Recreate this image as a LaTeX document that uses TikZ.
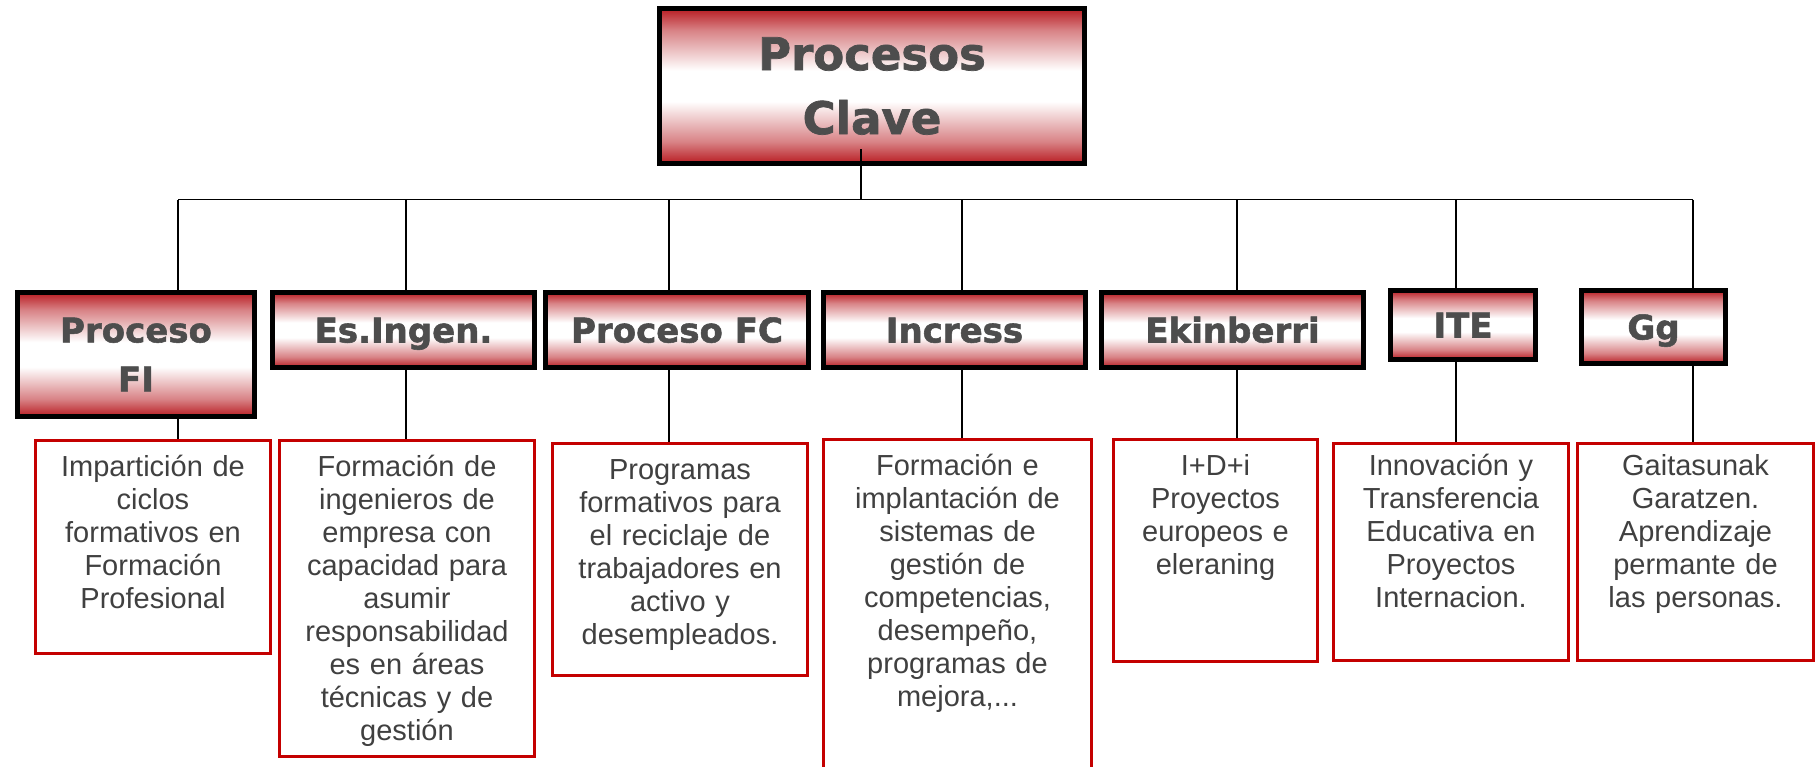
\documentclass[tikz,border=0pt]{standalone}
\usepackage{fontspec}
\usetikzlibrary{positioning}
\newfontfamily\headfont{DejaVu Sans}[BoldFeatures={FakeBold=1.6}]
\newfontfamily\descfont{Liberation Sans}
\definecolor{boxred}{RGB}{184,28,34}
\definecolor{linered}{RGB}{196,0,0}
\definecolor{headgray}{RGB}{77,77,77}
\definecolor{descgray}{RGB}{64,64,64}
\pgfdeclareverticalshading{redband}{100bp}{color(0bp)=(boxred); color(25bp)=(boxred); color(32bp)=(boxred!55!white); color(45bp)=(white); color(55bp)=(white); color(68bp)=(boxred!55!white); color(75bp)=(boxred); color(100bp)=(boxred)}
\tikzset{
  procbox/.style={draw=black, line width=5pt, shade, shading=redband, inner sep=0pt, align=center, text=headgray},
  procfont/.style={font=\headfont\bfseries\fontsize{34}{49}\selectfont},
  oneline/.style={text height=25pt, text depth=0pt},
  descbox/.style={draw=linered, line width=3pt, fill=white, inner sep=0pt},
  desctext/.style={font=\descfont\fontsize{29}{33}\selectfont, text=descgray, align=center, text width=#1, inner sep=0pt, anchor=base},
  link/.style={line width=1.8pt, black}
}
\begin{document}
\begin{tikzpicture}[x=1pt,y=-1pt]
  \fill[white] (0,0) rectangle (1820,766);
  \useasboundingbox (0,0) rectangle (1820,766);
  % Top box
  \node[procbox, minimum width=425pt, minimum height=155pt, font=\headfont\bfseries\fontsize{45}{64}\selectfont] (top) at (872,86) {Procesos\\Clave};
  % Process boxes
  \node[procbox, procfont, minimum width=237pt, minimum height=124pt] (fi) at (136,354.5) {Proceso\\FI};
  \node[procbox, procfont, oneline, minimum width=262pt, minimum height=75pt] (esi) at (403.5,330) {Es.Ingen.};
  \node[procbox, procfont, oneline, minimum width=263pt, minimum height=75pt] (fc) at (677,330) {Proceso FC};
  \node[procbox, procfont, oneline, minimum width=262pt, minimum height=75pt] (inc) at (954.5,330) {Incress};
  \node[procbox, procfont, oneline, minimum width=262pt, minimum height=75pt] (eki) at (1232.5,330) {Ekinberri};
  \node[procbox, procfont, oneline, minimum width=145pt, minimum height=69pt] (ite) at (1463,325) {ITE};
  \node[procbox, procfont, oneline, minimum width=144pt, minimum height=73pt] (gg) at (1653.5,327) {Gg};
  % Description boxes
  \node[descbox, minimum width=235pt, minimum height=213pt] (d-fi) at (153,547) {};
  \node[descbox, minimum width=255pt, minimum height=316pt] (d-esi) at (407,598.5) {};
  \node[descbox, minimum width=255pt, minimum height=232pt] (d-fc) at (680,559.5) {};
  \node[descbox, minimum width=268pt, minimum height=360pt] (d-inc) at (957.5,619.5) {};
  \node[descbox, minimum width=204pt, minimum height=222pt] (d-eki) at (1215.5,550.5) {};
  \node[descbox, minimum width=235pt, minimum height=217pt] (d-ite) at (1451,552) {};
  \node[descbox, minimum width=236pt, minimum height=217pt] (d-gg) at (1695.5,552) {};
  % Description texts
  \node[desctext=225pt] (t-fi) at ([yshift=-37.5pt]d-fi.north) {Impartición de\\ciclos\\formativos en\\Formación\\Profesional};
  \node[desctext=245pt] (t-esi) at ([yshift=-37.5pt]d-esi.north) {Formación de\\ingenieros de\\empresa con\\capacidad para\\asumir\\responsabilidad\\es en áreas\\técnicas y de\\gestión};
  \node[desctext=245pt] (t-fc) at ([yshift=-37.5pt]d-fc.north) {Programas\\formativos para\\el reciclaje de\\trabajadores en\\activo y\\desempleados.};
  \node[desctext=258pt] (t-inc) at ([yshift=-37.5pt]d-inc.north) {Formación e\\implantación de\\sistemas de\\gestión de\\competencias,\\desempeño,\\programas de\\mejora,...};
  \node[desctext=194pt] (t-eki) at ([yshift=-37.5pt]d-eki.north) {I+D+i\\Proyectos\\europeos e\\eleraning};
  \node[desctext=225pt] (t-ite) at ([yshift=-33.5pt]d-ite.north) {Innovación y\\Transferencia\\Educativa en\\Proyectos\\Internacion.};
  \node[desctext=226pt] (t-gg) at ([yshift=-33.5pt]d-gg.north) {Gaitasunak\\Garatzen.\\Aprendizaje\\permante de\\las personas.};
  % Connectors
  \foreach \n/\x in {fi/178,esi/406,fc/669,inc/962,eki/1237,ite/1456,gg/1693}{
    \coordinate (b-\n) at (\x,199.5);
    \draw[link] (b-\n) -- (b-\n |- \n.north);
    \draw[link] (\n.south -| b-\n) -- (b-\n |- d-\n.north);
  }
  \draw[link] (b-fi) -- (b-gg);
  \coordinate (b-top) at (861,199.5);
  \draw[link] (b-top |- top.south) ++(0,-17) -- (b-top);
\end{tikzpicture}
\end{document}
